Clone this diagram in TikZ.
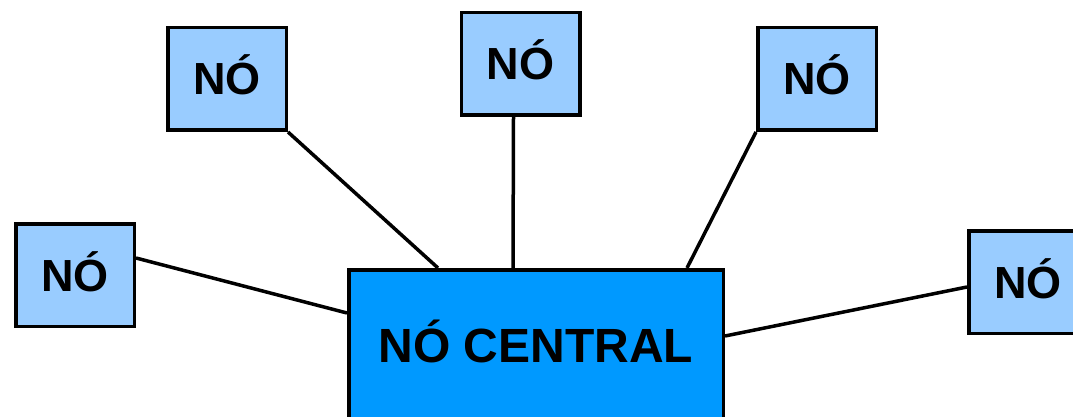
\documentclass[tikz,border=0pt]{standalone}
\usepackage{fontspec}
\setmainfont{Liberation Sans}
\definecolor{lightnode}{HTML}{99CCFF}
\definecolor{centralnode}{HTML}{0099FF}
\begin{document}
\begin{tikzpicture}[x=1pt,y=-1pt,
  boxbase/.style={draw=black,line width=3.5pt,inner sep=0pt,text depth=0pt},
  smallbox/.style={boxbase,fill=lightnode,minimum width=118.5pt,minimum height=102.5pt,text height=32pt,font=\fontsize{45}{50}\selectfont\bfseries},
  bigbox/.style={boxbase,fill=centralnode,minimum width=374.5pt,minimum height=150.5pt,text height=34.4pt,font=\fontsize{48}{52}\selectfont\bfseries},
  link/.style={draw=black,line width=3.5pt}]
\useasboundingbox (0,0) rectangle (1073,417);
\begin{scope}
\clip (0,0) rectangle (1073,417);
\node[bigbox] (c) at (536,345) {NÓ CENTRAL};
\node[smallbox] (l) at (75,275) {NÓ};
\node[smallbox] (tl) at (227,79) {NÓ};
\node[smallbox] (tm) at (520.5,64) {NÓ};
\node[smallbox] (tr) at (817,79) {NÓ};
\node[smallbox] (r) at (1028,282) {NÓ};
\draw[link] ([yshift=17pt]l.east) -- ([yshift=32pt]c.west);
\draw[link] (tl.south east) -- ([xshift=-98pt]c.north);
\draw[link] ([xshift=-7pt]tm.south) -- ([xshift=-23pt]c.north);
\draw[link] (tr.south west) -- ([xshift=151pt]c.north);
\draw[link] ([yshift=-5pt]r.west) -- ([yshift=9pt]c.east);
\end{scope}
\end{tikzpicture}
\end{document}
